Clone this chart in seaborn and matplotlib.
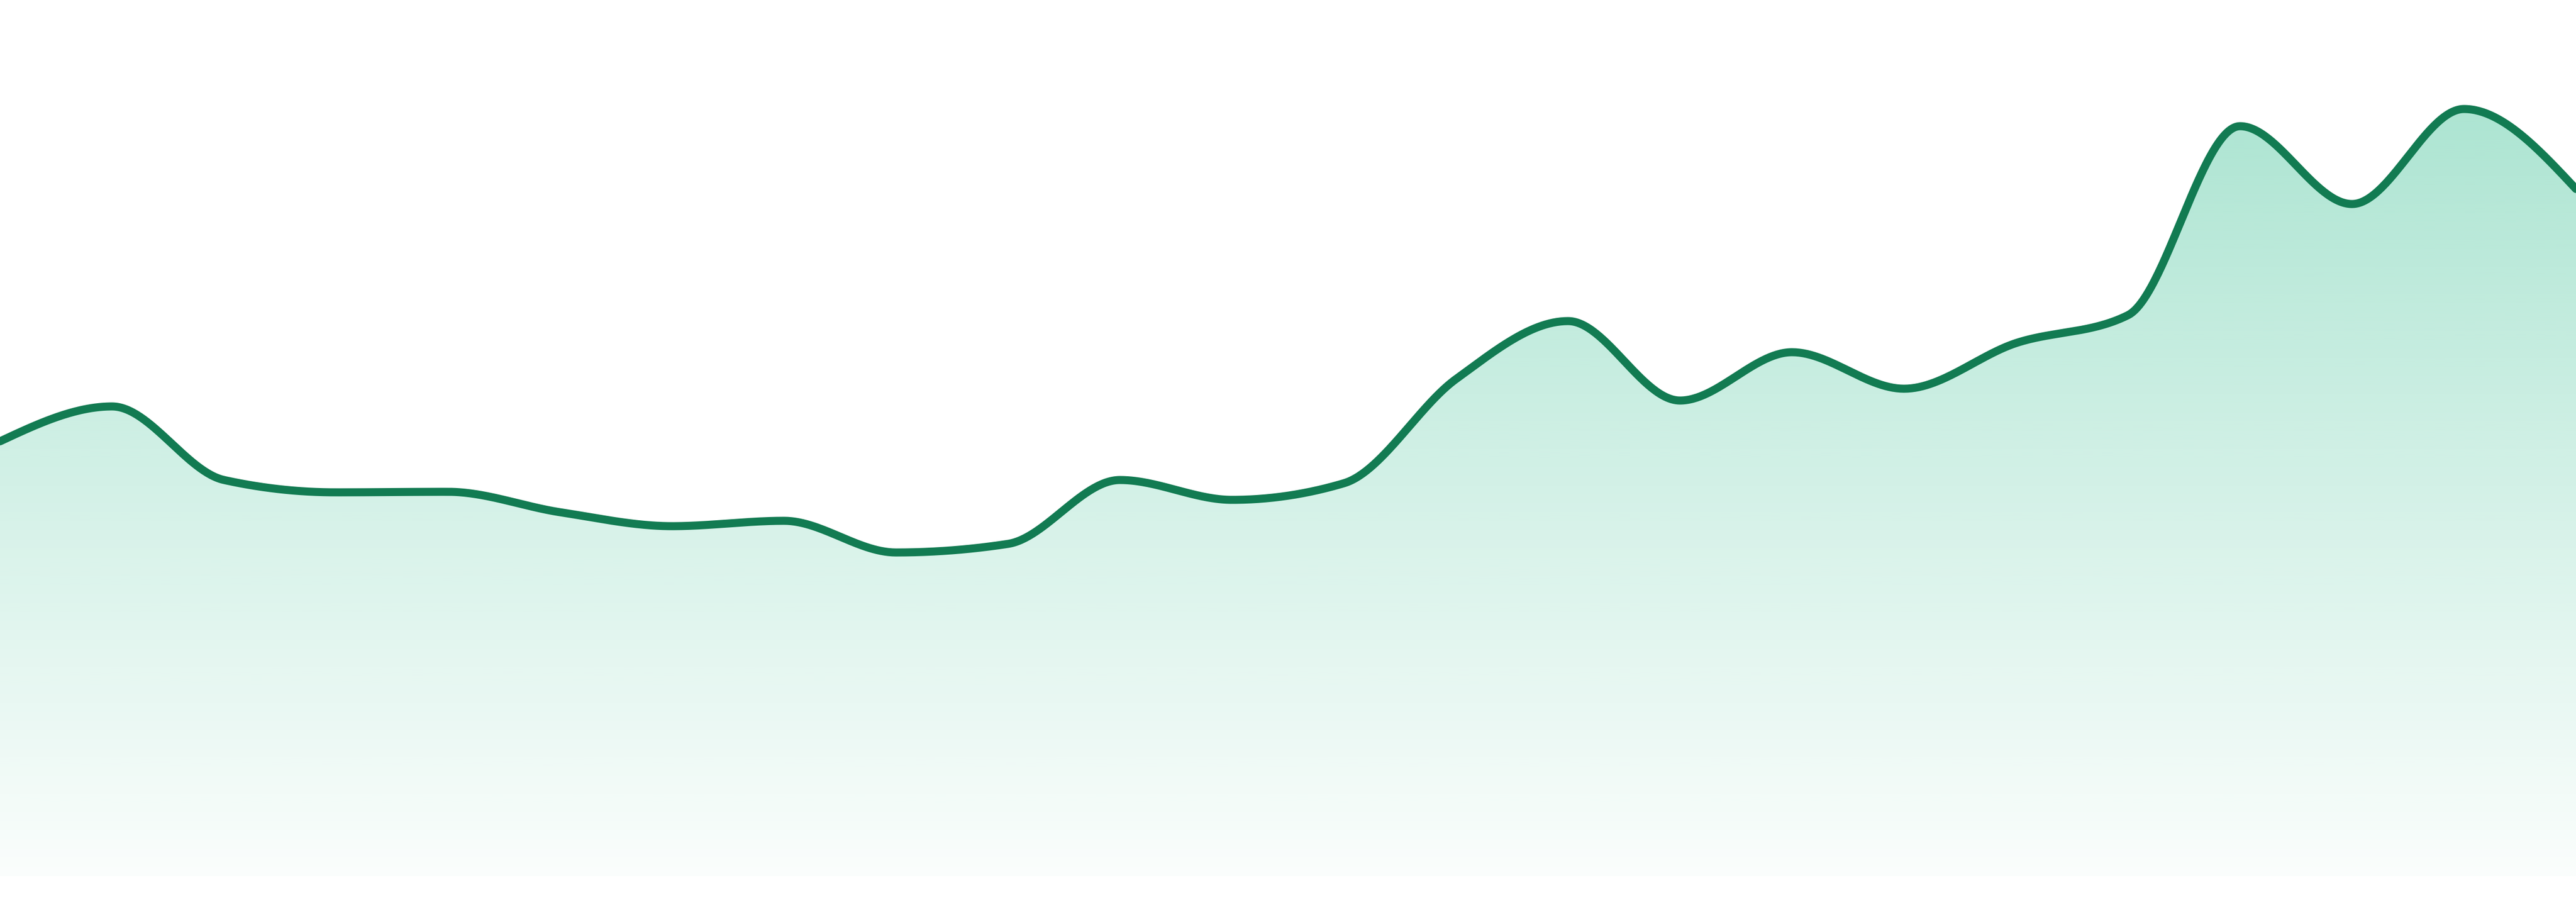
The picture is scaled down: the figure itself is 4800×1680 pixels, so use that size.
import numpy as np
import pandas as pd
import matplotlib
matplotlib.use("Agg")
import matplotlib.pyplot as plt
import seaborn as sns
from matplotlib.colors import to_rgb

# ---- data (arbitrary units) ----
index = list(range(24))
values = [810, 875, 738, 715, 716, 678, 652, 662, 603, 619, 738, 701,
          732, 926, 1034, 886, 976, 908, 993, 1045, 1397, 1252, 1429, 1280]

LINE_COLOR = "#127B52"
FILL_COLOR = "#14B47E"

sns.set_theme(style="white")


def monotone_x(x, y, per_seg=60):
    """Monotone cubic interpolation (same rule as d3.curveMonotoneX)."""
    x = np.asarray(x, float)
    y = np.asarray(y, float)
    n = len(x)
    h = np.diff(x)
    s = np.diff(y) / h
    m = np.zeros(n)
    for i in range(1, n - 1):
        h0, h1 = h[i - 1], h[i]
        s0, s1 = s[i - 1], s[i]
        p = (s0 * h1 + s1 * h0) / (h0 + h1)
        m[i] = (np.sign(s0) + np.sign(s1)) * min(abs(s0), abs(s1), 0.5 * abs(p))
    m[0] = (3 * s[0] - m[1]) / 2
    m[-1] = (3 * s[-1] - m[-2]) / 2
    xs, ys = [], []
    for i in range(n - 1):
        t = np.linspace(0, 1, per_seg, endpoint=(i == n - 2))
        hh = h[i]
        h00 = 2 * t**3 - 3 * t**2 + 1
        h10 = t**3 - 2 * t**2 + t
        h01 = -2 * t**3 + 3 * t**2
        h11 = t**3 - t**2
        xs.append(x[i] + t * hh)
        ys.append(h00 * y[i] + h10 * hh * m[i] + h01 * y[i + 1] + h11 * hh * m[i + 1])
    return np.concatenate(xs), np.concatenate(ys)


W, H, DPI = 4800, 1680, 200
fig = plt.figure(figsize=(W / DPI, H / DPI), dpi=DPI)
fig.patch.set_facecolor("white")
bottom_px = 48
ax = fig.add_axes([0, bottom_px / H, 1, (H - bottom_px) / H])
ax.set_facecolor("white")

xs, ys = monotone_x(index, values)
curve = pd.DataFrame({"x": xs, "y": ys})

ymax_axis = H - bottom_px
ax.set_xlim(index[0], index[-1])
ax.set_ylim(0, ymax_axis)

# gradient fill clipped to the area under the curve
poly = ax.fill_between(curve["x"], curve["y"], 0, facecolor="none", edgecolor="none")
top = max(values)
alpha_top, alpha_bottom = 0.35, 0.02
grad_n = 256
alphas = np.linspace(alpha_bottom, alpha_top, grad_n)
rgb = to_rgb(FILL_COLOR)
img = np.zeros((grad_n, 1, 4))
img[:, 0, 0] = rgb[0]
img[:, 0, 1] = rgb[1]
img[:, 0, 2] = rgb[2]
img[:, 0, 3] = alphas
im = ax.imshow(img, extent=[index[0], index[-1], 0, top], origin="lower",
               aspect="auto", interpolation="bilinear", zorder=1)
im.set_clip_path(poly.get_paths()[0], transform=ax.transData)
ax.set_xlim(index[0], index[-1])
ax.set_ylim(0, ymax_axis)

sns.lineplot(data=curve, x="x", y="y", ax=ax, color=LINE_COLOR,
             linewidth=15 * 72 / DPI, sort=False, estimator=None, zorder=3,
             solid_capstyle="round")

ax.set_xlim(index[0], index[-1])
ax.set_ylim(0, ymax_axis)
ax.axis("off")

fig.savefig("out.png", dpi=DPI, facecolor="white")
